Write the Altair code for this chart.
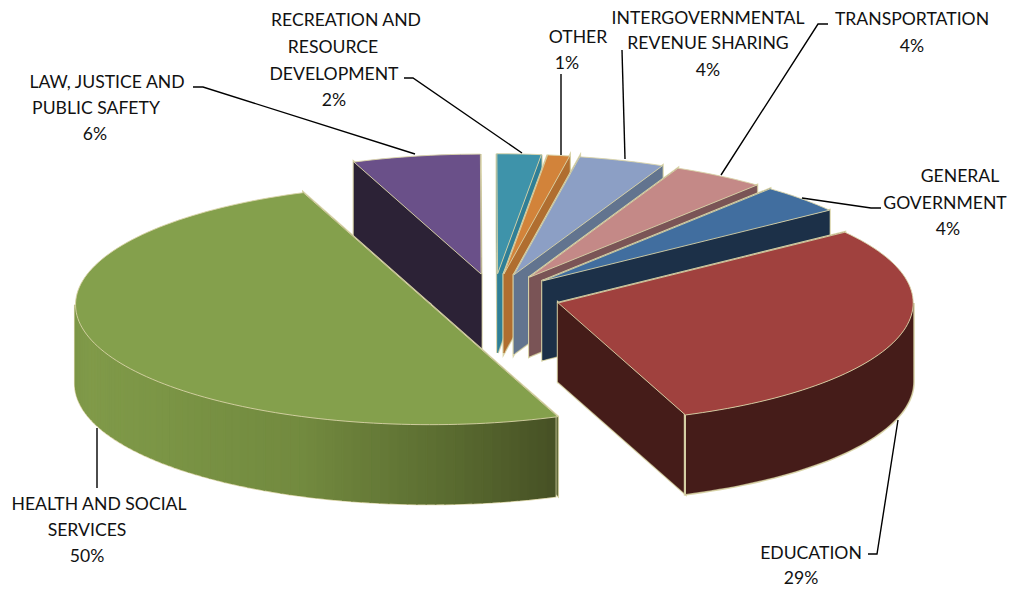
import math
import altair as alt

# ---- data
names = ["LAW", "RECREATION", "OTHER", "INTERGOV", "TRANSPORTATION", "GENERAL", "EDUCATION", "HEALTH"]
shares = [5.8, 2.0, 1.0, 3.9, 4.2, 3.9, 29.2, 50.0]
top_colors = ["#6a5089", "#3e93aa", "#d2833a", "#8c9fc5", "#c48987", "#416e9f", "#a0413e", "#84a04c"]
wall_colors = ["#2c2236", "#2f7f97", "#b06e30", "#62748f", "#7a5456", "#1c3048", "#451c19", "#4a5626"]

label_lines = [
    "LAW, JUSTICE AND", "PUBLIC SAFETY", "6%",
    "RECREATION AND", "RESOURCE", "DEVELOPMENT", "2%",
    "OTHER", "1%",
    "INTERGOVERNMENTAL", "REVENUE SHARING", "4%",
    "TRANSPORTATION", "4%",
    "GENERAL", "GOVERNMENT", "4%",
    "EDUCATION", "29%",
    "HEALTH AND SOCIAL", "SERVICES", "50%",
]
label_x = [107, 96, 95, 346, 333, 334, 334, 578, 567, 708, 708, 708, 912, 912, 960, 945, 948, 811, 801, 99, 87, 87]
label_y = [82.5, 108.5, 134.5, 20.5, 47.5, 74.5, 100.5, 37.5, 63.5, 19, 44, 70.5, 19.5, 46.5, 176.5, 203.5, 229.5, 553.5, 579, 504.5, 530.5, 556.5]

leaders = [
    [(193, 87), (203, 87), (415, 154)],
    [(404, 78), (413, 78), (522, 153)],
    [(561, 74), (561, 155)],
    [(622, 50), (625, 159)],
    [(828, 24), (818, 24), (721, 175)],
    [(881, 208), (871, 208), (802, 198)],
    [(868, 554), (877, 554), (898, 420)],
    [(97, 428), (97, 488)],
]

# ---- pie geometry
CX, CY, A, B, DEPTH, EXPLODE = 493.5, 296.5, 355, 120, 79, 0.19
START = 249
CREAM = "#d9d4a8"
HEALTH_STOPS = [(69.5, "#465024"), (87, "#5a6b30"), (111, "#728a3f"), (142, "#7c9646"), (163, "#809a49"), (180, "#7c9647")]


def hex_mix(c1, c2, f):
    p = [int(c1[i:i + 2], 16) for i in (1, 3, 5)]
    q = [int(c2[i:i + 2], 16) for i in (1, 3, 5)]
    return "#%02x%02x%02x" % tuple(round(a + (b - a) * f) for a, b in zip(p, q))


def health_color(t):
    for (t0, c0), (t1, c1) in zip(HEALTH_STOPS, HEALTH_STOPS[1:]):
        if t <= t1:
            return hex_mix(c0, c1, (t - t0) / (t1 - t0))
    return HEALTH_STOPS[-1][1]


def poly(pts, fill, stroke, width):
    ring = [list(p) for p in pts] + [list(pts[0])]
    return {"type": "Feature", "geometry": {"type": "Polygon", "coordinates": [ring]},
            "properties": {"fill": fill, "stroke": stroke, "sw": width}}


features = []
t0 = START
for name, share, top, wall in zip(names, shares, top_colors, wall_colors):
    t1 = t0 + share * 3.6
    tm = math.radians((t0 + t1) / 2)
    cx = CX + EXPLODE * A * math.cos(tm)
    cy = CY + EXPLODE * B * math.sin(tm)

    def pt(t, drop=0):
        r = math.radians(t)
        return (cx + A * math.cos(r), cy + B * math.sin(r) + drop)

    n = max(2, int((t1 - t0) / 1.5))
    ts = [t0 + (t1 - t0) * i / n for i in range(n + 1)]
    arc = [pt(t) for t in ts]
    apex, apex_low = (cx, cy), (cx, cy + DEPTH)

    # radial walls
    for t in (t0, t1):
        quad = [apex, pt(t), pt(t, DEPTH), apex_low]
        features.append(poly(quad, wall, CREAM, 2.6))
    for t in (t0, t1):
        quad = [apex, pt(t), pt(t, DEPTH), apex_low]
        features.append(poly(quad, wall, wall, 0.4))

    # outer wall, only the part that faces the viewer
    lo, hi = None, None
    if name == "HEALTH":
        lo, hi = 69.5, 180
    elif name == "EDUCATION":
        lo, hi = 0, t1 - 360
    if lo is not None:
        mm = max(2, int((hi - lo) / 1.5))
        edge = [lo + (hi - lo) * i / mm for i in range(mm + 1)]
        outline = [pt(t) for t in edge] + [pt(t, DEPTH) for t in reversed(edge)]
        features.append(poly(outline, wall, CREAM, 3.2))
        if name == "HEALTH":
            for a, b in zip(edge, edge[1:]):
                c = health_color((a + b) / 2)
                features.append(poly([pt(a), pt(b), pt(b, DEPTH), pt(a, DEPTH)], c, c, 1.6))
        else:
            features.append(poly(outline, wall, wall, 0.3))
            features.append(poly([pt(hi), pt(hi, DEPTH)], wall, CREAM, 0.9))

    features.append(poly([apex] + arc, top, CREAM, 0.9))
    t0 = t1

leader_features = [{"type": "Feature", "geometry": {"type": "LineString", "coordinates": [list(p) for p in l]},
                    "properties": {}} for l in leaders]

projection = dict(type="identity", scale=1, translate=[-8, -8])

pie = alt.Chart(alt.Data(values=features)).mark_geoshape().encode(
    fill=alt.Fill("properties.fill:N", scale=None),
    stroke=alt.Stroke("properties.stroke:N", scale=None),
    strokeWidth=alt.StrokeWidth("properties.sw:Q", scale=None),
).project(**projection)

lines = alt.Chart(alt.Data(values=leader_features)).mark_geoshape(
    filled=False, stroke="#000000", strokeWidth=1.4
).project(**projection)

label_rows = [{"t": t, "x": x - 8, "y": y - 8} for t, x, y in zip(label_lines, label_x, label_y)]
labels = alt.Chart(alt.Data(values=label_rows)).mark_text(
    font="Lato", fontSize=17.6, color="#111111", align="center", baseline="middle"
).encode(
    x=alt.X("x:Q", scale=None, axis=None),
    y=alt.Y("y:Q", scale=None, axis=None),
    text="t:N",
)

chart = alt.layer(pie, lines, labels).properties(
    width=1000, height=581, padding=0, autosize=alt.AutoSizeParams(type="none")
).configure_view(stroke=None)

chart.save("out.html", embed_options={"renderer": "svg", "actions": False})
